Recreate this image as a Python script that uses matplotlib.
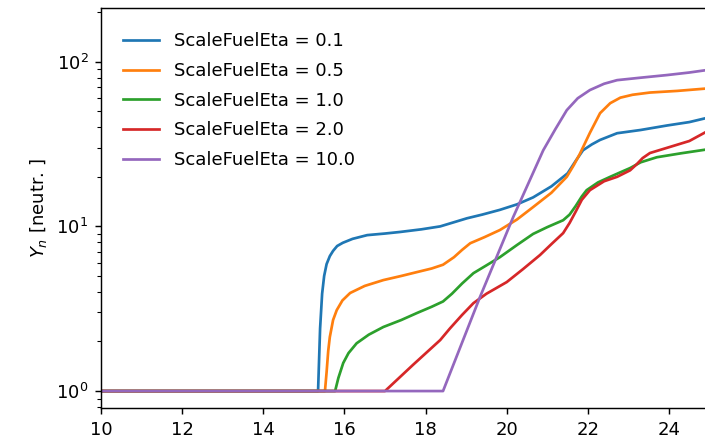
import numpy as np
import matplotlib.pyplot as plt

# Yn vs t para distintos ScaleFuelEta
t_01 = [10, 15.35, 15.40, 15.45, 15.50, 15.56, 15.64, 15.72, 15.82, 15.96, 16.2, 16.56, 17.0, 17.37, 17.9, 18.36, 18.7, 19.02, 19.4, 19.83, 20.25, 20.65, 21.1, 21.5, 21.7, 21.88, 22.1, 22.3, 22.72, 23.3, 23.95, 24.5, 25]
y_01 = [1, 1, 2.4, 3.9, 5.0, 5.9, 6.6, 7.1, 7.6, 7.95, 8.4, 8.85, 9.05, 9.25, 9.6, 10.0, 10.6, 11.2, 11.8, 12.6, 13.6, 15.0, 17.5, 21.0, 25.0, 29.0, 31.5, 33.5, 36.8, 38.5, 41.0, 43.0, 46.0]

t_05 = [10, 15.52, 15.56, 15.6, 15.64, 15.72, 15.81, 15.95, 16.14, 16.5, 16.96, 17.4, 17.79, 18.15, 18.43, 18.7, 18.9, 19.1, 19.45, 19.83, 20.25, 20.65, 21.1, 21.48, 21.65, 21.8, 22.05, 22.3, 22.55, 22.8, 23.1, 23.53, 24.2, 25]
y_05 = [1, 1, 1.3, 1.75, 2.13, 2.7, 3.1, 3.55, 3.94, 4.35, 4.72, 5.0, 5.28, 5.55, 5.85, 6.5, 7.2, 7.9, 8.6, 9.5, 11.0, 13.1, 16.0, 20.0, 23.5, 27.5, 37.0, 48.7, 56.0, 60.5, 63.0, 65.0, 66.5, 69.0]

t_1 = [10, 15.77, 15.85, 15.97, 16.1, 16.3, 16.6, 16.96, 17.4, 17.79, 18.15, 18.43, 18.65, 18.9, 19.18, 19.5, 19.83, 20.25, 20.65, 21.0, 21.39, 21.55, 21.7, 21.85, 21.97, 22.25, 22.55, 22.8, 23.04, 23.3, 23.7, 24.3, 25]
y_1 = [1, 1, 1.2, 1.48, 1.7, 1.95, 2.2, 2.45, 2.7, 2.98, 3.25, 3.5, 3.9, 4.5, 5.2, 5.8, 6.5, 7.7, 9.0, 9.9, 10.9, 11.8, 13.3, 15.2, 16.6, 18.5, 20.0, 21.3, 22.6, 24.5, 26.3, 27.8, 29.5]

t_2 = [10, 17.0, 17.7, 18.36, 18.6, 18.9, 19.18, 19.5, 20.0, 20.4, 20.82, 21.1, 21.39, 21.55, 21.7, 21.85, 22.05, 22.4, 22.72, 23.04, 23.2, 23.35, 23.53, 23.95, 24.5, 25]
y_2 = [1, 1, 1.45, 2.04, 2.4, 2.9, 3.42, 3.9, 4.59, 5.5, 6.7, 7.8, 9.1, 10.5, 12.3, 14.5, 16.6, 18.8, 20.0, 21.9, 23.8, 26.0, 27.9, 30.0, 33.0, 38.5]

t_10 = [10, 18.43, 19.34, 20.16, 20.9, 21.2, 21.48, 21.75, 22.05, 22.4, 22.72, 23.3, 23.95, 24.5, 25]
y_10 = [1, 1, 3.72, 11.4, 29.0, 39.0, 50.8, 60.0, 67.3, 73.5, 77.3, 80.0, 83.0, 86.0, 89.5]

etas = ['0.1', '0.5', '1.0', '2.0', '10.0']
curvas = [(t_01, y_01), (t_05, y_05), (t_1, y_1), (t_2, y_2), (t_10, y_10)]

fig = plt.figure(figsize=(705/130, 442/130), dpi=130)
ax = fig.add_axes([101/705, 34/442, 608.6/705, 400/442])

for eta, (t, y) in zip(etas, curvas):
    ax.plot(t, y, lw=1.5, label='ScaleFuelEta = ' + eta)

ax.set_yscale('log')
ax.set_xlim(10, 25)
ax.set_ylim(0.789, 212)
ax.set_xticks(np.arange(10, 26, 2))
ax.set_ylabel(r'$Y_n$ [neutr. ]')
ax.legend(loc='upper left', bbox_to_anchor=(0.01, 0.98), frameon=False,
          labelspacing=0.65)

fig.savefig('out.png', dpi=130)
